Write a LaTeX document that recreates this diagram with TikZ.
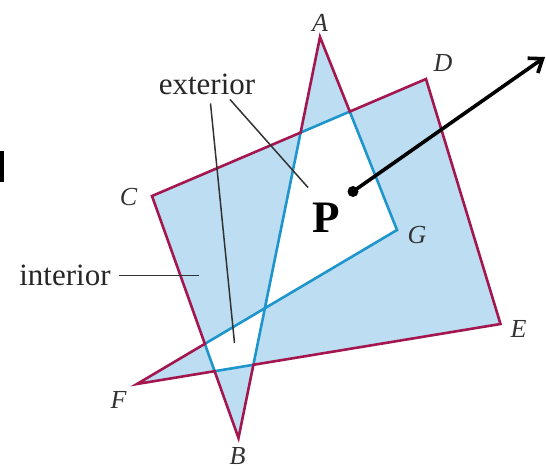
\documentclass[tikz,border=0pt]{standalone}
\usepackage{fontspec}
\setmainfont{Liberation Serif}
\usetikzlibrary{arrows.meta}
\definecolor{edgered}{HTML}{A3174E}
\definecolor{edgeblue}{HTML}{1E96CC}
\definecolor{fillblue}{HTML}{BDDDF3}
\tikzset{
  redline/.style={draw=edgered,line width=1.3pt,line join=miter},
  blueline/.style={draw=edgeblue,line width=1.3pt,line join=miter},
  vlabel/.style={font=\fontsize{13}{13}\selectfont\itshape,inner sep=0pt,text=black!80},
  wlabel/.style={font=\fontsize{15.5}{15.5}\selectfont,inner sep=0pt,text=black!85},
  leader/.style={draw=black!80,line width=0.75pt},
}
\begin{document}
\begin{tikzpicture}[x=0.5pt,y=-0.5pt]
\useasboundingbox (0,0) rectangle (546,470);
% vertices
\coordinate (A) at (320,37);
\coordinate (B) at (238.5,438);
\coordinate (C) at (152,196);
\coordinate (D) at (426,79);
\coordinate (E) at (500.5,324);
\coordinate (F) at (137,384);
\coordinate (G) at (397,230);
% intersections
\coordinate (ABCD) at (intersection of A--B and C--D);
\coordinate (ABFG) at (intersection of A--B and F--G);
\coordinate (ABEF) at (intersection of A--B and E--F);
\coordinate (BCEF) at (intersection of B--C and E--F);
\coordinate (BCFG) at (intersection of B--C and F--G);
\coordinate (AGCD) at (intersection of A--G and C--D);
% fill
\fill[fillblue,even odd rule] (A) -- (B) -- (C) -- (D) -- (E) -- (F) -- (G) -- cycle;
% hole boundaries
\draw[blueline] (ABCD) -- (AGCD) -- (G) -- (ABFG) -- cycle;
\draw[blueline] (BCFG) -- (ABFG) -- (ABEF) -- (BCEF) -- cycle;
% outer boundary
\draw[redline] (A) -- (ABCD) -- (C) -- (BCFG) -- (F) -- (BCEF) -- (B) -- (ABEF) -- (E) -- (D) -- (AGCD) -- cycle;
% vertex labels
\node[vlabel] (lA) at (320,23) {A};
\node[vlabel] (lB) at (237.5,456) {B};
\node[vlabel] (lC) at (128.5,197) {C};
\node[vlabel] (lD) at (443,63) {D};
\node[vlabel] (lE) at (518.5,329) {E};
\node[vlabel] (lF) at (118.5,400) {F};
\node[vlabel] (lG) at (417,235) {G};
% P and arrow
\node[font=\fontsize{22.5}{22.5}\selectfont\bfseries,inner sep=0pt] (lP) at (326.5,218) {P};
\node[circle,fill=black,inner sep=0pt,minimum size=5.5pt] (dot) at (353,191.5) {};
\coordinate (tip) at (545,57);
\draw[line width=1.8pt,-{Straight Barb[length=6pt,width=9pt,line width=1.8pt]}] (dot.center) -- (tip);
% leaders
\node[wlabel] (ext) at (207,84) {exterior};
\node[wlabel] (int) at (65,275.5) {interior};
\coordinate (e1s) at (230,99.5);
\coordinate (e1e) at (308,187.5);
\coordinate (e2s) at (210.5,103.5);
\coordinate (e2e) at (234.5,343);
\coordinate (i1s) at (118.5,275.5);
\coordinate (i1e) at (199,275.5);
\draw[leader] (e1s) -- (e1e);
\draw[leader] (e2s) -- (e2e);
\draw[leader] (i1s) -- (i1e);
% fragment at left edge
\fill[black] (0,151) rectangle (4,182);
\end{tikzpicture}
\end{document}
